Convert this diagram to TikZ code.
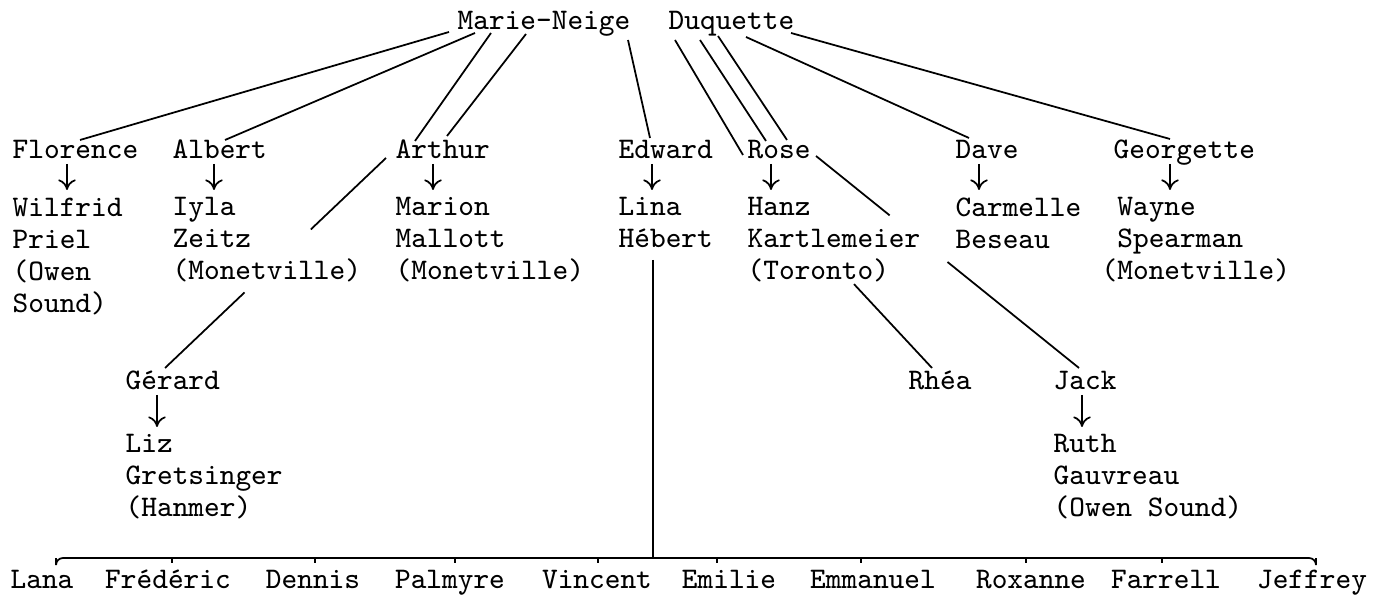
\documentclass[tikz,border=0pt]{standalone}
\usetikzlibrary{calc,arrows.meta}
\tikzset{
  person/.style={font=\ttfamily\fontsize{8.5}{9.1}\selectfont, inner sep=0pt, align=left},
  kin/.style={line width=0.5pt},
  kid/.style={line width=0.5pt, -{To[length=3pt,width=5pt]}, shorten >=2pt},
}
\begin{document}
\begin{tikzpicture}[x=0.01cm, y=-0.01cm]
  \useasboundingbox (0,0) rectangle (1388,598);

  %%%%% PARENTS %%%%%
  \node[person, anchor=base west] (marie) at (457,30) {Marie-Neige};
  \node[person, anchor=base west] (duq) at (668,30) {Duquette};

  %%%%% CHILDREN %%%%%
  \node[person, anchor=base west] (florence) at (12,159) {Florence};
  \node[person, anchor=base west] (albert) at (172,159) {Albert};
  \node[person, anchor=base west] (arthur) at (395,159) {Arthur};
  \node[person, anchor=base west] (edward) at (618,159) {Edward};
  \node[person, anchor=base west] (rose) at (747,159) {Rose};
  \node[person, anchor=base west] (dave) at (955,159) {Dave};
  \node[person, anchor=base west] (georgette) at (1113,159) {Georgette};
  \node[person, anchor=base west] (gerard) at (125,390) {Gérard};
  \node[person, anchor=base west] (rhea) at (908,390) {Rhéa};
  \node[person, anchor=base west] (jack) at (1053,390) {Jack};

  %%%%% SPOUSES %%%%%
  \node[person, anchor=north west] (wilfrid) at (12,197) {Wilfrid\\Priel\\(Owen\\Sound)};
  \node[person, anchor=north west] (iyla) at (172,197) {Iyla\\Zeitz\\(Monetville)};
  \node[person, anchor=north west] (marion) at (395,197) {Marion\\Mallott\\(Monetville)};
  \node[person, anchor=north west] (lina) at (618,197) {Lina\\Hébert};
  \node[person, anchor=north west] (hanz) at (747,197) {Hanz\\Kartlemeier\\(Toronto)};
  \node[person, anchor=north west] (carmelle) at (955,197) {Carmelle\\Beseau};
  \node[person, anchor=north west] (wayne) at (1101,197) {~Wayne\\~Spearman\\(Monetville)};
  \node[person, anchor=north west] (liz) at (125,434) {Liz\\Gretsinger\\(Hanmer)};
  \node[person, anchor=north west] (ruth) at (1053,434) {Ruth\\Gauvreau\\(Owen Sound)};

  %%%%% LINES FROM THE PARENTS %%%%%
  \draw[kin] ($(marie.base west)+(-8,2)$) -- ($(florence.base west)+(68,-19)$);
  \draw[kin] ($(marie.base west)+(18,3)$) -- ($(albert.base west)+(53,-19)$);
  \draw[kin] ($(marie.base west)+(34,3)$) -- ($(arthur.base west)+(20,-18)$);
  \draw[kin] ($(marie.base west)+(69,4)$) -- ($(arthur.base west)+(52,-23)$);
  \draw[kin] ($(marie.base west)+(171,10)$) -- ($(edward.base west)+(32,-21)$);
  \draw[kin] ($(duq.base west)+(7,10)$) -- ($(rose.base west)+(-4,-4)$);
  \draw[kin] ($(duq.base west)+(32,10)$) -- ($(rose.base west)+(19,-18)$);
  \draw[kin] ($(duq.base west)+(50,6)$) -- ($(rose.base west)+(40,-19)$);
  \draw[kin] ($(duq.base west)+(78,7)$) -- ($(dave.base west)+(14,-21)$);
  \draw[kin] ($(duq.base west)+(123,3)$) -- ($(georgette.base west)+(57,-20)$);

  % on to the grandchildren
  \coordinate (ga) at ($(arthur.base west)+(-9,-1)$);
  \coordinate (gb) at ($(gerard.base west)+(40,-22)$);
  \draw[kin] (ga) -- ($(ga)!0.34!(gb)$);
  \draw[kin] ($(ga)!0.64!(gb)$) -- (gb);
  \coordinate (ja) at ($(rose.base west)+(69,-3)$);
  \coordinate (jb) at ($(jack.base west)+(26,-22)$);
  \draw[kin] (ja) -- ($(ja)!0.28!(jb)$);
  \draw[kin] ($(ja)!0.5!(jb)$) -- (jb);
  \draw[kin] ($(hanz.south)+(20,1)$) -- ($(rhea.base west)+(24,-22)$);

  %%%%% MARRIAGES %%%%%
  \foreach \p/\c/\dx in {florence/wilfrid/55, albert/iyla/42, arthur/marion/38,
      edward/lina/34, rose/hanz/24, dave/carmelle/24, georgette/wayne/57,
      gerard/liz/32, jack/ruth/29}
    \draw[kid] ($(\p.base west)+(\dx,5)$) coordinate (t) -- (t |- \c.north);

  %%%%% EDWARD AND LINA'S CHILDREN %%%%%
  \coordinate (bar) at (0,558);
  \draw[kin] ($(lina.south)+(-13,11)$) coordinate (h) -- (h |- bar);
  \foreach \nm/\x/\t [count=\i] in {Lana/42/14, Frédéric/168/4, Dennis/313/2,
      Palmyre/450/5, Vincent/597/1, Emilie/729/-12, Emmanuel/873/-12,
      Roxanne/1031/-5, Farrell/1166/-4, Jeffrey/1312/4} {
    \node[person, anchor=base] (n\i) at (\x,589) {\nm};
    \draw[kin] ($(n\i.base)+(\t,-26)$) -- ++(0,-5);
  }
  \draw[kin, rounded corners=2pt] ($(n1.base)+(14,-26)$) |- ($(n10.base)+(4,-31)$) -- ++(0,5);
\end{tikzpicture}
\end{document}
